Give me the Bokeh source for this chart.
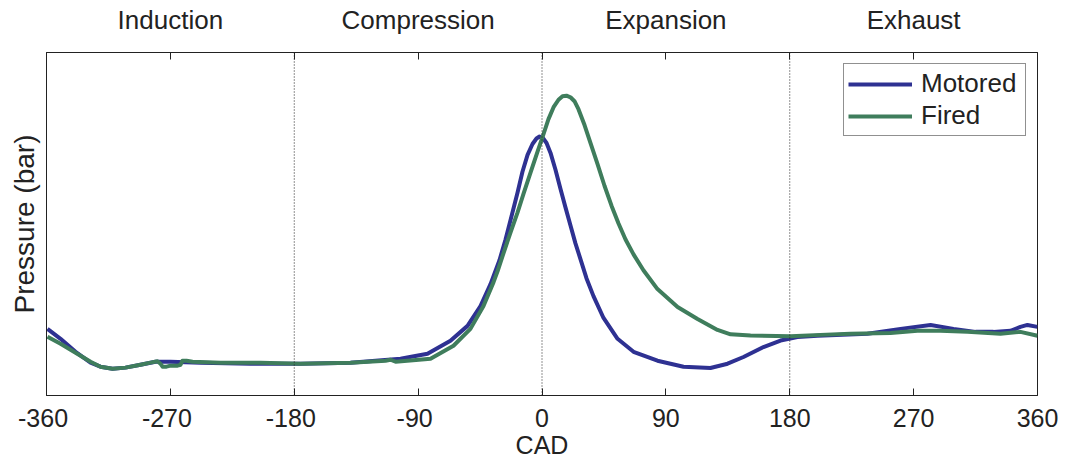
from bokeh.plotting import figure
from bokeh.models import FixedTicker, LinearAxis, Span, Legend, LegendItem, Range1d
from bokeh.embed import file_html
from bokeh.resources import INLINE

# Crank angle (deg) and pressure (bar)
motored_cad = [-359.3, -349.8, -338.9, -328.0, -320.8, -312.0, -302.6, -291.7, -280.8, -269.9,
               -248.1, -211.8, -175.5, -139.1, -102.8, -83.2, -66.5, -54.1, -44.7, -37.4,
               -30.9, -26.5, -22.2, -17.8, -14.2, -10.5, -6.9, -4.0, -1.8, 0.4,
               3.3, 6.2, 9.8, 13.4, 17.1, 20.7, 24.3, 28.0, 32.3, 37.4,
               44.7, 54.9, 66.5, 83.9, 102.8, 122.4, 134.8, 146.4, 160.9, 173.3,
               185.6, 200.2, 236.5, 260.5, 282.3, 299.0, 315.0, 328.0, 340.4, 347.6,
               352.7, 360.0]
motored_p = [7.77, 6.61, 5.10, 3.83, 3.36, 3.13, 3.25, 3.59, 3.94, 3.94,
             3.83, 3.71, 3.71, 3.83, 4.29, 4.87, 6.38, 8.12, 10.43, 12.99,
             15.77, 18.20, 20.87, 23.65, 26.09, 28.06, 29.33, 29.97, 30.20, 30.09,
             29.45, 28.29, 26.32, 24.12, 21.91, 19.83, 17.74, 15.88, 13.68, 11.59,
             9.04, 6.61, 5.10, 4.06, 3.36, 3.21, 3.71, 4.49, 5.65, 6.41,
             6.81, 6.96, 7.19, 7.77, 8.23, 7.77, 7.42, 7.42, 7.54, 8.00,
             8.23, 8.00]

fired_cad = [-359.3, -349.8, -338.9, -328.0, -320.8, -312.0, -302.6, -291.7, -284.4, -279.4,
             -277.2, -275.7, -272.8, -269.9, -264.8, -262.6, -261.2, -258.3, -253.9, -233.6,
             -204.5, -175.5, -139.1, -113.7, -110.1, -106.4, -81.0, -64.3, -52.0, -42.5,
             -35.2, -32.3, -28.0, -22.9, -17.8, -13.4, -8.4, -3.3, 1.1, 4.7,
             8.4, 12.0, 14.9, 17.8, 20.7, 23.6, 26.5, 30.9, 35.2, 40.3,
             45.4, 50.5, 55.6, 60.7, 66.5, 73.7, 83.9, 98.5, 113.0, 127.5,
             137.0, 151.5, 180.6, 202.3, 224.1, 253.2, 272.8, 289.5, 309.1, 333.1,
             347.6, 360.0]
fired_p = [6.84, 6.03, 4.99, 3.94, 3.36, 3.13, 3.25, 3.59, 3.83, 4.00,
           3.71, 3.36, 3.36, 3.48, 3.48, 3.59, 4.06, 4.06, 3.94, 3.83,
           3.83, 3.71, 3.83, 4.06, 4.17, 3.94, 4.29, 5.80, 7.77, 10.43,
           13.22, 14.49, 16.58, 19.01, 21.33, 23.54, 25.97, 28.41, 30.49, 32.23,
           33.62, 34.49, 34.90, 34.96, 34.78, 34.32, 33.39, 31.54, 29.45, 27.01,
           24.46, 22.14, 20.06, 18.20, 16.46, 14.61, 12.41, 10.32, 8.93, 7.65,
           7.13, 6.99, 6.92, 7.07, 7.19, 7.30, 7.54, 7.54, 7.42, 7.19,
           7.42, 6.96]

x_ticks = [-360, -270, -180, -90, 0, 90, 180, 270, 360]
x_tick_labels = ["-360", "-270", "-180", "-90", "0", "90", "180", "270", "360"]
phase_names = ["Induction", "Compression", "Expansion", "Exhaust"]
phase_centres = [-270, -90, 90, 270]
phase_bounds = [-180, 0, 180]

FONT = "Liberation Sans"
TXT = "#222222"
BLUE = "#2e3192"
GREEN = "#3f7d5c"

p = figure(width=1066, height=461, output_backend="svg", toolbar_location=None,
           x_range=Range1d(-360, 360), y_range=Range1d(0, 40),
           min_border_left=46, min_border_right=29, min_border_top=52, min_border_bottom=64,
           x_axis_location=None, y_axis_location=None)
p.xgrid.visible = False
p.ygrid.visible = False
p.outline_line_color = "#222222"
p.outline_line_width = 1
p.background_fill_color = "white"
p.border_fill_color = "white"

def style_x(ax, size):
    ax.ticker = FixedTicker(ticks=x_ticks)
    ax.major_tick_in = 7
    ax.major_tick_out = 0
    ax.minor_tick_line_color = None
    ax.axis_line_color = "#222222"
    ax.major_tick_line_color = "#222222"
    ax.major_label_text_font = FONT
    ax.major_label_text_font_size = size
    ax.major_label_text_color = TXT
    ax.axis_label_text_font = FONT
    ax.axis_label_text_font_size = size
    ax.axis_label_text_font_style = "normal"
    ax.axis_label_text_color = TXT

xb = LinearAxis(axis_label="CAD")
style_x(xb, "25px")
# negative labels: digits centred on the tick, minus sign hanging left
xb.major_label_overrides = {t: (lab + "\u00a0" if lab.startswith("-") else lab)
                            for t, lab in zip(x_ticks, x_tick_labels)}
xb.major_label_standoff = 8
xb.axis_label_standoff = -4
p.add_layout(xb, "below")

xt = LinearAxis()
style_x(xt, "26px")
overrides = {t: "" for t in x_ticks}
for name, c in zip(phase_names, phase_centres):
    overrides[c] = name
xt.major_label_overrides = overrides
xt.major_label_standoff = 18
p.add_layout(xt, "above")

yl = LinearAxis(axis_label="Pressure (bar)")
yl.ticker = FixedTicker(ticks=[])
yl.major_tick_line_color = None
yl.minor_tick_line_color = None
yl.axis_line_color = "#222222"
yl.axis_label_text_font = FONT
yl.axis_label_text_font_size = "28px"
yl.axis_label_text_font_style = "normal"
yl.axis_label_text_color = TXT
yl.axis_label_standoff = 7
p.add_layout(yl, "left")

for b in phase_bounds:
    p.add_layout(Span(location=b, dimension="height", line_color="#222222",
                      line_width=1, line_dash="1 2"))

r1 = p.line(motored_cad, motored_p, line_color=BLUE, line_width=4, line_join="round")
r2 = p.line(fired_cad, fired_p, line_color=GREEN, line_width=4, line_join="round")

leg = Legend(items=[LegendItem(label="Motored", renderers=[r1]),
                    LegendItem(label="Fired", renderers=[r2])],
             location="top_right")
leg.label_text_font = FONT
leg.label_text_font_size = "26px"
leg.label_text_color = TXT
leg.glyph_width = 64
leg.glyph_height = 26
leg.label_height = 26
leg.label_width = 100
leg.label_standoff = 9
leg.spacing = 1
leg.padding = 4
leg.margin = 11
leg.border_line_color = "#222222"
leg.border_line_width = 1
leg.background_fill_alpha = 1
p.add_layout(leg)

open("out.html", "w").write(file_html(p, INLINE))
